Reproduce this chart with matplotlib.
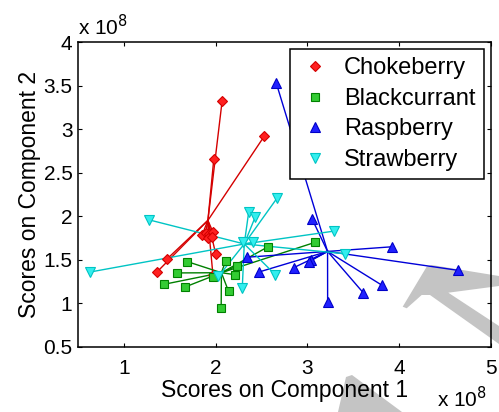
import matplotlib
matplotlib.use("Agg")
import matplotlib.pyplot as plt
from matplotlib.patches import Polygon
import numpy as np

plt.rcParams['font.family'] = ['Liberation Sans', 'DejaVu Sans']

# PCA scores, in units of 1e8
choke_x = [2.07, 1.98, 2.53, 1.47, 1.36, 1.85, 1.89, 1.93, 1.97, 1.92, 1.96, 2.00, 1.97]
choke_y = [3.32, 2.66, 2.92, 1.51, 1.36, 1.78, 1.81, 1.80, 1.82, 1.75, 1.76, 1.57, 1.33]

black_x = [1.69, 1.58, 1.44, 1.67, 2.06, 2.14, 2.21, 2.23, 2.11, 2.57, 1.97, 3.08]
black_y = [1.48, 1.35, 1.22, 1.19, 0.95, 1.14, 1.33, 1.43, 1.49, 1.65, 1.30, 1.70]

rasp_x = [2.66, 3.05, 3.92, 4.64, 3.81, 3.61, 3.22, 3.04, 3.02, 2.85, 2.47, 2.34]
rasp_y = [3.53, 1.97, 1.65, 1.38, 1.21, 1.12, 1.02, 1.50, 1.48, 1.41, 1.36, 1.53]

straw_x = [1.27, 2.67, 2.36, 2.43, 2.41, 2.65, 2.29, 2.03, 0.63, 3.29, 3.41, 2.30]
straw_y = [1.96, 2.21, 2.05, 1.99, 1.70, 1.33, 1.18, 1.31, 1.36, 1.83, 1.57, 1.70]

groups = [
    ("Chokeberry", choke_x, choke_y, "D", "#ff2020", "#d40000", "#d40000", 5),
    ("Blackcurrant", black_x, black_y, "s", "#33cc33", "#008000", "#008000", 5.5),
    ("Raspberry", rasp_x, rasp_y, "^", "#2020ff", "#0000c8", "#0000d8", 6.5),
    ("Strawberry", straw_x, straw_y, "v", "#33eeee", "#00c4c4", "#00c4c4", 6.5),
]

W, H = 499, 412


def px(pts):
    # pixel coords (top-left origin) -> figure fraction
    a = np.array(pts, dtype=float)
    return np.column_stack([a[:, 0] / W, 1 - a[:, 1] / H])


fig = plt.figure(figsize=(4.99, 4.12), dpi=100)
ax = fig.add_axes([78/W, 1-347/H, 413/W, 305/H])
ax.set_zorder(1)
ax.patch.set_alpha(0)

# grey mark in the background
grey = "#c4c4c4"
fig.patches.append(Polygon(px([(402.7, 306.7), (426.7, 266.7), (431.7, 265), (499, 276), (499, 286),
                               (448.3, 292.7), (499, 326), (499, 344), (430, 295), (421.7, 295),
                               (406.7, 308.3)]),
                           closed=True, transform=fig.transFigure, color=grey, lw=0, zorder=0))
fig.patches.append(Polygon(px([(346, 377), (352, 375), (402, 412), (338, 412)]),
                           closed=True, transform=fig.transFigure, color=grey, lw=0, zorder=0))

handles = []
for name, xs, ys, mk, face, edge, lc, ms in groups:
    xs = np.array(xs)
    ys = np.array(ys)
    cx, cy = xs.mean(), ys.mean()
    for x, y in zip(xs, ys):
        ax.plot([cx, x], [cy, y], color=lc, lw=1.0, zorder=2)
    ax.plot(xs, ys, ls="none", marker=mk, ms=ms, mfc=face, mec=edge, mew=0.8, zorder=3)
    h, = ax.plot([], [], ls="none", marker=mk, ms=ms, mfc=face, mec=edge, mew=0.8)
    handles.append(h)

ax.set_xlim(0.5, 5)
ax.set_ylim(0.5, 4)
ax.set_xticks([1, 2, 3, 4, 5])
ax.set_yticks([0.5, 1, 1.5, 2, 2.5, 3, 3.5, 4])
ax.set_yticklabels(["0.5", "1", "1.5", "2", "2.5", "3", "3.5", "4"])
ax.tick_params(direction="in", length=3, width=0.8, top=True, right=True, labelsize=15)
ax.tick_params(axis="x", pad=9)
ax.tick_params(axis="y", pad=4)
for s in ax.spines.values():
    s.set_linewidth(1.1)

ax.set_xlabel("Scores on Component 1", fontsize=16.5, labelpad=0)
ax.set_ylabel("Scores on Component 2", fontsize=16.5, labelpad=2)

fig.text(78/W, 1-35/H, r"x 10$^{8}$", fontsize=15, ha="left", va="baseline")
fig.text(437/W, 1-407/H, r"x 10$^{8}$", fontsize=15, ha="left", va="baseline")

leg = ax.legend(handles, [g[0] for g in groups], loc="upper right",
                bbox_to_anchor=((484-78)/413, (347-49)/305), fontsize=17,
                numpoints=1, handlelength=1.4, handletextpad=0.55, borderpad=0.35,
                labelspacing=0.36, fancybox=False, framealpha=1, edgecolor="black",
                borderaxespad=0)
leg.get_frame().set_linewidth(1.1)

fig.savefig("out.png", dpi=100)
